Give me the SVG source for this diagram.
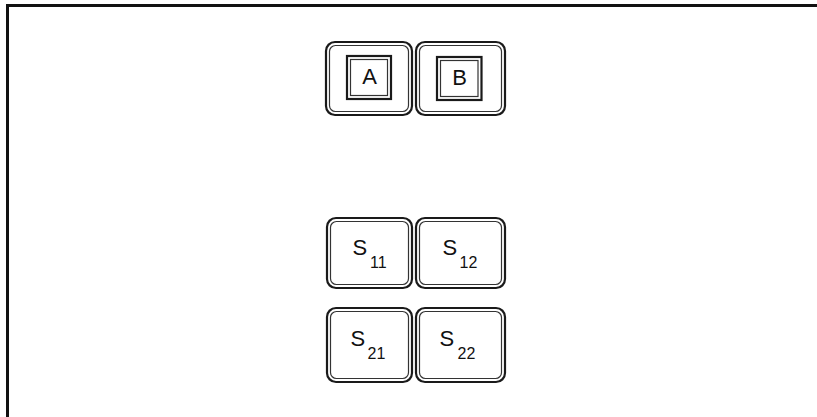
<svg xmlns="http://www.w3.org/2000/svg" width="817" height="417" viewBox="0 0 817 417">
<style>
.bg{fill:#fff}
.frame{stroke:#111;stroke-width:3;fill:none}
.ko{fill:none;stroke:#1a1a1a;stroke-width:2.2}
.ki{fill:none;stroke:#333;stroke-width:1.2}
.lbl{font-family:"Liberation Sans",Arial,sans-serif;font-size:22px;fill:#111}
.sub{font-family:"Liberation Sans",Arial,sans-serif;font-size:16px;fill:#111}
</style>
<rect class="bg" x="0" y="0" width="817" height="417"/>
<g id="frame">
<path class="frame" d="M7.5,417 L7.5,5.5 L817,5.5"/>
</g>
<g id="connectors"></g>
<g id="key-A">
<rect class="ko" x="326" y="42" width="86" height="73" rx="9"/>
<rect class="ki" x="329.5" y="45.5" width="79" height="66" rx="6"/>
<rect class="ko" x="347" y="56" width="44" height="43"/>
<rect class="ki" x="350.5" y="59.5" width="37" height="36"/>
<text class="lbl" x="369.5" y="84" text-anchor="middle">A</text>
</g>
<g id="key-B">
<rect class="ko" x="416" y="42" width="89" height="73" rx="9"/>
<rect class="ki" x="419.5" y="45.5" width="82" height="66" rx="6"/>
<rect class="ko" x="437" y="57" width="44.5" height="43"/>
<rect class="ki" x="440.5" y="60.5" width="37.5" height="36"/>
<text class="lbl" x="459.5" y="85" text-anchor="middle">B</text>
</g>
<g id="key-S11">
<rect class="ko" x="327" y="218" width="85" height="70" rx="9"/>
<rect class="ki" x="330.5" y="221.5" width="78" height="63" rx="6"/>
<text class="lbl" x="352.5" y="255">S</text>
<text class="sub" x="370" y="267.5">11</text>
</g>
<g id="key-S12">
<rect class="ko" x="416" y="218" width="89" height="70" rx="9"/>
<rect class="ki" x="419.5" y="221.5" width="82" height="63" rx="6"/>
<text class="lbl" x="442.5" y="255">S</text>
<text class="sub" x="459.5" y="267.5">12</text>
</g>
<g id="key-S21">
<rect class="ko" x="327" y="308" width="85" height="74" rx="9"/>
<rect class="ki" x="330.5" y="311.5" width="78" height="67" rx="6"/>
<text class="lbl" x="350.5" y="346">S</text>
<text class="sub" x="367.5" y="359">21</text>
</g>
<g id="key-S22">
<rect class="ko" x="416" y="308" width="89" height="74" rx="9"/>
<rect class="ki" x="419.5" y="311.5" width="82" height="67" rx="6"/>
<text class="lbl" x="439.5" y="346">S</text>
<text class="sub" x="457.5" y="359">22</text>
</g>
</svg>
